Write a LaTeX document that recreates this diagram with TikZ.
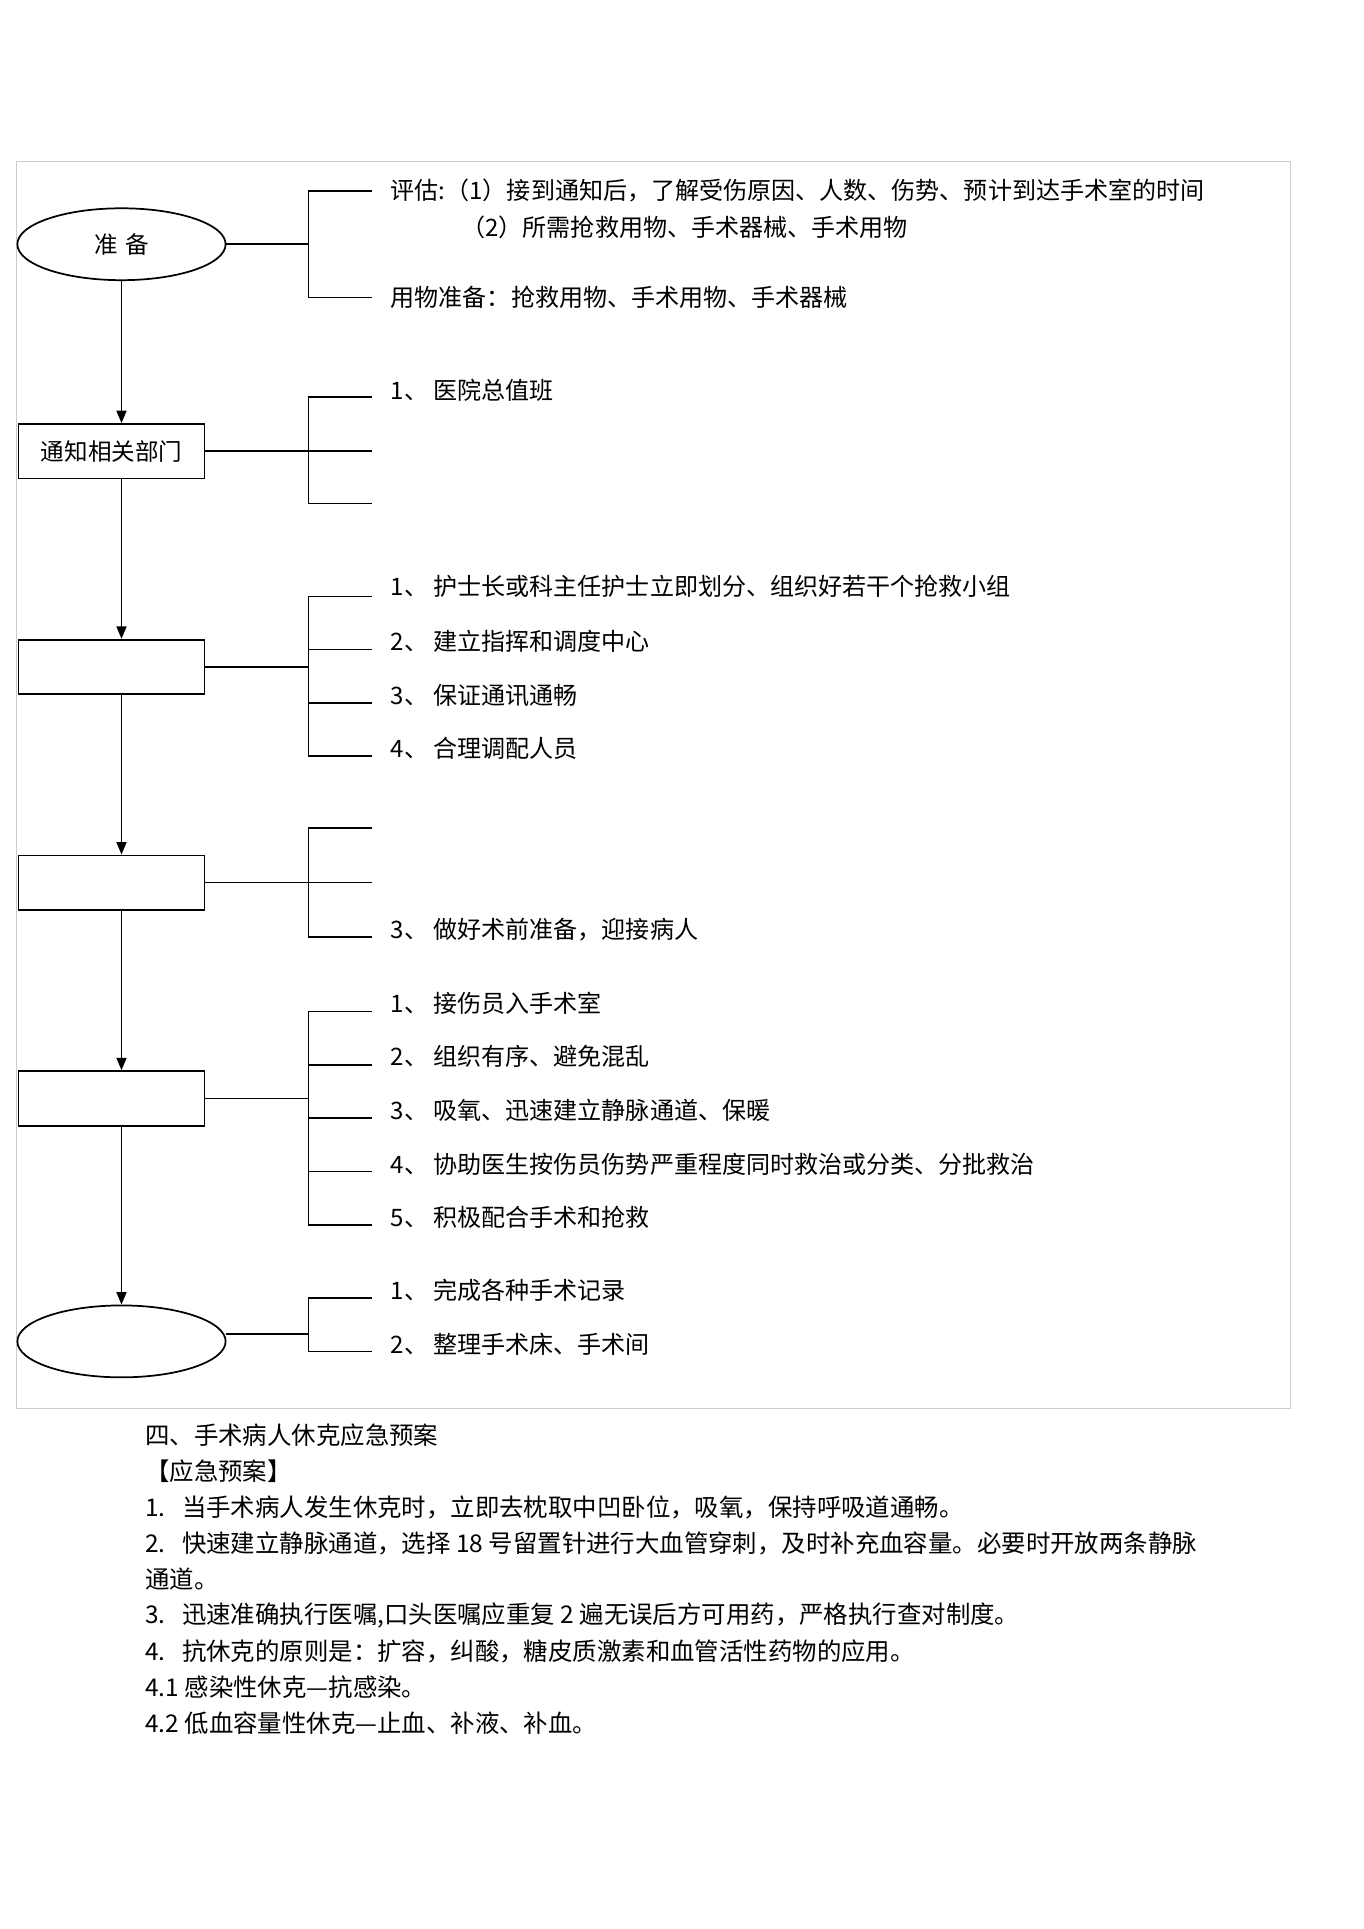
\documentclass[tikz,border=0pt]{standalone}
\usepackage{fontspec}
\setmainfont{Noto Sans CJK SC}
\usetikzlibrary{shapes.geometric,arrows.meta}
\begin{document}
\begin{tikzpicture}[x=1pt,y=-1pt,
  box/.style={draw,line width=1.4pt,minimum width=150pt,minimum height=44pt,inner sep=0pt,font=\fontsize{19}{20}\selectfont},
  oval/.style={draw,ellipse,line width=1.4pt,minimum width=168pt,minimum height=58pt,inner sep=0pt,font=\fontsize{19}{20}\selectfont},
  ln/.style={line width=1.3pt},
  arr/.style={line width=1.4pt,-{Triangle[length=10pt,width=8pt]}},
  txt/.style={anchor=west,inner sep=0pt,font=\fontsize{19.4}{20}\selectfont},
  body/.style={anchor=west,inner sep=0pt,font=\fontsize{19.7}{20}\selectfont}]
\useasboundingbox (0,0) rectangle (1100,1556);
\fill[white] (0,0) rectangle (1100,1556);
\draw[black!20,line width=0.8pt] (13,130) rectangle (1041,1136);
% nodes
\node[oval] (a) at (98,197) {准\,\,备};
\node[box] (b) at (90,364) {通知相关部门};
\node[box] (c) at (90,538) {};
\node[box] (d) at (90,712) {};
\node[box] (e) at (90,886) {};
\node[oval] (f) at (98,1082) {};
\draw[arr] (a.south) -- (a.south|-b.north);
\draw[arr] (a.south|-b.south) -- (a.south|-c.north);
\draw[arr] (a.south|-c.south) -- (a.south|-d.north);
\draw[arr] (a.south|-d.south) -- (a.south|-e.north);
\draw[arr] (a.south|-e.south) -- (f.north);
% branches
\coordinate (ja) at (249,197);
\draw[ln] (a.east) -- (ja);
\draw[ln] (300,154) -- (249,154) -- (249,240) -- (300,240);
\node[txt] (t1) at (315,154) {评估:（1）接到通知后，了解受伤原因、人数、伤势、预计到达手术室的时间};
\node[txt] (t2) at (372,183) {（2）所需抢救用物、手术器械、手术用物};
\node[txt] (t3) at (315,240) {用物准备：抢救用物、手术用物、手术器械};

\coordinate (jb) at (300,364);
\draw[ln] (b.east) -- (jb);
\draw[ln] (300,320) -- (249,320) -- (249,406) -- (300,406);
\node[txt] (t4) at (315,315) {1、\ 医院总值班};

\coordinate (jc) at (249,538);
\draw[ln] (c.east) -- (jc);
\draw[ln] (300,481) -- (249,481) -- (249,610) -- (300,610);
\draw[ln] (249,524) -- (300,524);
\draw[ln] (249,567) -- (300,567);
\node[txt] at (315,473) {1、\ 护士长或科主任护士立即划分、组织好若干个抢救小组};
\node[txt] at (315,517) {2、\ 建立指挥和调度中心};
\node[txt] at (315,561) {3、\ 保证通讯通畅};
\node[txt] at (315,604) {4、\ 合理调配人员};

\coordinate (jd) at (300,712);
\draw[ln] (d.east) -- (jd);
\draw[ln] (300,668) -- (249,668) -- (249,756) -- (300,756);
\node[txt] at (315,750) {3、\ 做好术前准备，迎接病人};

\coordinate (je) at (249,886);
\draw[ln] (e.east) -- (je);
\draw[ln] (300,816) -- (249,816) -- (249,988) -- (300,988);
\draw[ln] (249,859) -- (300,859);
\draw[ln] (249,902) -- (300,902);
\draw[ln] (249,945) -- (300,945);
\node[txt] at (315,809) {1、\ 接伤员入手术室};
\node[txt] at (315,852) {2、\ 组织有序、避免混乱};
\node[txt] at (315,896) {3、\ 吸氧、迅速建立静脉通道、保暖};
\node[txt] at (315,939) {4、\ 协助医生按伤员伤势严重程度同时救治或分类、分批救治};
\node[txt] at (315,982) {5、\ 积极配合手术和抢救};

\coordinate (jf) at (249,1076);
\draw[ln] (f.east|-jf) -- (jf);
\draw[ln] (300,1047) -- (249,1047) -- (249,1090) -- (300,1090);
\node[txt] at (315,1041) {1、\ 完成各种手术记录};
\node[txt] at (315,1084) {2、\ 整理手术床、手术间};
% body text
\node[body] at (117,1158) {四、手术病人休克应急预案};
\node[body] at (117,1187) {【应急预案】};
\node[body] at (117,1216) {1.\ \ \ 当手术病人发生休克时，立即去枕取中凹卧位，吸氧，保持呼吸道通畅。};
\node[body] at (117,1245) {2.\ \ \ 快速建立静脉通道，选择 18 号留置针进行大血管穿刺，及时补充血容量。必要时开放两条静脉};
\node[body] at (117,1274) {通道。};
\node[body] at (117,1303) {3.\ \ \ 迅速准确执行医嘱,口头医嘱应重复 2 遍无误后方可用药，严格执行查对制度。};
\node[body] at (117,1332) {4.\ \ \ 抗休克的原则是：扩容，纠酸，糖皮质激素和血管活性药物的应用。};
\node[body] at (117,1361) {4.1 感染性休克—抗感染。};
\node[body] at (117,1390) {4.2 低血容量性休克—止血、补液、补血。};
\end{tikzpicture}
\end{document}
